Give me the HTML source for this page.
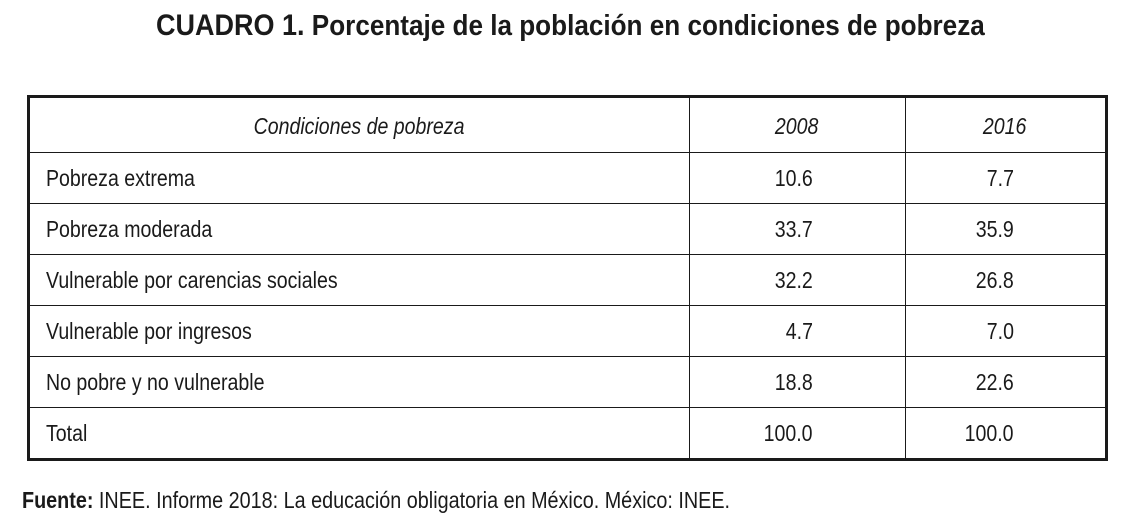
<!DOCTYPE html>
<html><head><meta charset="utf-8"><style>
body{margin:0;width:1140px;height:531px;background:#fff;position:relative;overflow:hidden;font-family:"Liberation Sans Narrow","Liberation Sans",sans-serif;color:#1a1a1a}
.t{position:absolute;white-space:nowrap}
#tbl{position:absolute;left:27px;top:95px;width:1075px;height:360px;border:3.5px solid #1a1a1a}
.h{position:absolute;left:0;width:100%;height:1px;background:#1a1a1a}
.v{position:absolute;top:0;height:100%;width:1px;background:#1a1a1a}
.c{position:absolute;font-size:23px;line-height:50px;height:50px;white-space:nowrap}
.s{display:inline-block;transform:scaleX(0.85)}
</style></head><body>
<div class="t" style="left:0;width:1140px;text-align:center;top:8px;font-size:29px;font-weight:bold;line-height:36px"><span style="display:inline-block;transform:scaleX(0.9);transform-origin:center"><span style="font-size:30px">CUADRO 1.</span> Porcentaje de la población en condiciones de pobreza</span></div>
<div id="tbl">
<div class="v" style="left:659px"></div><div class="v" style="left:875px"></div>
<div class="h" style="top:54px"></div><div class="h" style="top:105px"></div><div class="h" style="top:156px"></div><div class="h" style="top:207px"></div><div class="h" style="top:258px"></div><div class="h" style="top:309px"></div>
<div class="c" style="left:0;width:659px;text-align:center;top:3px;font-style:italic"><span class="s" style="transform-origin:center">Condiciones de pobreza</span></div>
<div class="c" style="left:659px;width:216px;text-align:center;top:3px;font-style:italic"><span class="s" style="transform-origin:center">2008</span></div>
<div class="c" style="left:875px;width:200px;text-align:center;top:3px;font-style:italic"><span class="s" style="transform-origin:center">2016</span></div>
</div>
<div class="t" style="left:22px;top:485px;font-size:23px;line-height:30px"><span class="s" style="transform-origin:left;transform:scaleX(0.86)"><b>Fuente:</b> INEE. Informe 2018: La educación obligatoria en México. México: INEE.</span></div>
<script>
const labels=["Pobreza extrema","Pobreza moderada","Vulnerable por carencias sociales","Vulnerable por ingresos","No pobre y no vulnerable","Total"];
const v2008=["10.6","33.7","32.2","4.7","18.8","100.0"];
const v2016=["7.7","35.9","26.8","7.0","22.6","100.0"];
const tbl=document.getElementById('tbl');
function cell(css,text,origin,name){
  const d=document.createElement('div');d.className='c';d.style.cssText=css;
  const s=document.createElement('span');s.className='s';s.style.transformOrigin=origin;s.textContent=text;d.appendChild(s);
  
  
  tbl.appendChild(d);
}
labels.forEach((l,i)=>{
  const top=55+i*51;
  cell('left:16px;top:'+top+'px',l,'left','row-label');
  cell('left:659px;width:124px;text-align:right;top:'+top+'px',v2008[i],'right','value-2008');
  cell('left:875px;width:109px;text-align:right;top:'+top+'px',v2016[i],'right','value-2016');
});
</script>
</body></html>
